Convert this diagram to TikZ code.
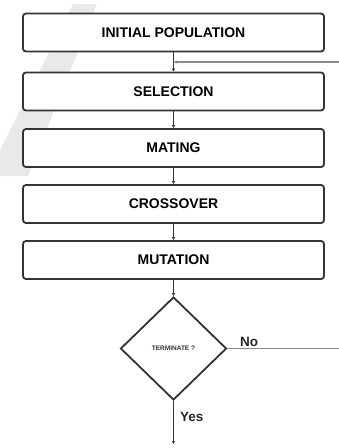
\documentclass[tikz,border=0pt]{standalone}
\usepackage{fontspec}
\setmainfont{Liberation Sans}
\usetikzlibrary{shapes.geometric,arrows.meta}
\definecolor{boxline}{HTML}{333333}
\definecolor{wm}{HTML}{E9E9E9}
\definecolor{fbline}{HTML}{8A8A8A}
\tikzset{
  stepbox/.style={draw=boxline, line width=1.8pt, rounded corners=3pt, fill=white,
    minimum width=301pt, minimum height=38pt, inner sep=0pt,
    font=\fontsize{14}{14}\selectfont\bfseries, text=black},
  decide/.style={draw=boxline, line width=1.8pt, diamond, aspect=1, fill=white,
    minimum width=106pt, minimum height=103pt, inner sep=0pt,
    font=\fontsize{6.5}{6.5}\selectfont\bfseries, text=black!80},
  conn/.style={draw=boxline, line width=1.5pt, -{Latex[length=3pt,width=3.5pt]}},
  back/.style={draw=fbline, line width=1.4pt},
  lbl/.style={font=\fontsize{13.5}{13.5}\selectfont\bfseries, text=black!85, inner sep=0pt, anchor=west}
}
\begin{document}
\begin{tikzpicture}[x=1pt,y=-1pt]
\useasboundingbox (0,0) rectangle (339,448);
% watermark stripe
\fill[wm] (73,4) -- (97,4) -- (28,176) -- (0,176) -- (0,150) -- cycle;
% boxes
\node[stepbox] (init) at (173.5,32.5) {INITIAL POPULATION};
\node[stepbox] (sel) at (173.5,91.5) {SELECTION};
\node[stepbox] (mat) at (173.5,148) {MATING};
\node[stepbox] (cro) at (173.5,204) {CROSSOVER};
\node[stepbox] (mut) at (173.5,260) {MUTATION};
\node[decide] (dec) at (173.5,348.5) {TERMINATE ?};
% connectors
\draw[conn] (init) -- (sel);
\draw[conn] (sel) -- (mat);
\draw[conn] (mat) -- (cro);
\draw[conn] (cro) -- (mut);
\draw[conn] (mut) -- (dec);
\coordinate (end) at (173.5,444);
\draw[conn] (dec) -- (end);
% feedback from right
\coordinate (fbR) at (339,62);
\coordinate (fbL) at (173.5,62);
\draw[back, -{Latex[length=3pt,width=3.5pt]}] (fbR) -- (fbL);
\coordinate (noR) at (339,348.5);
\draw[back] (dec.east) -- (noR);
% labels
\node[lbl] (no) at (240,342) {No};
\node[lbl] (yes) at (180,417) {Yes};
\end{tikzpicture}
\end{document}
